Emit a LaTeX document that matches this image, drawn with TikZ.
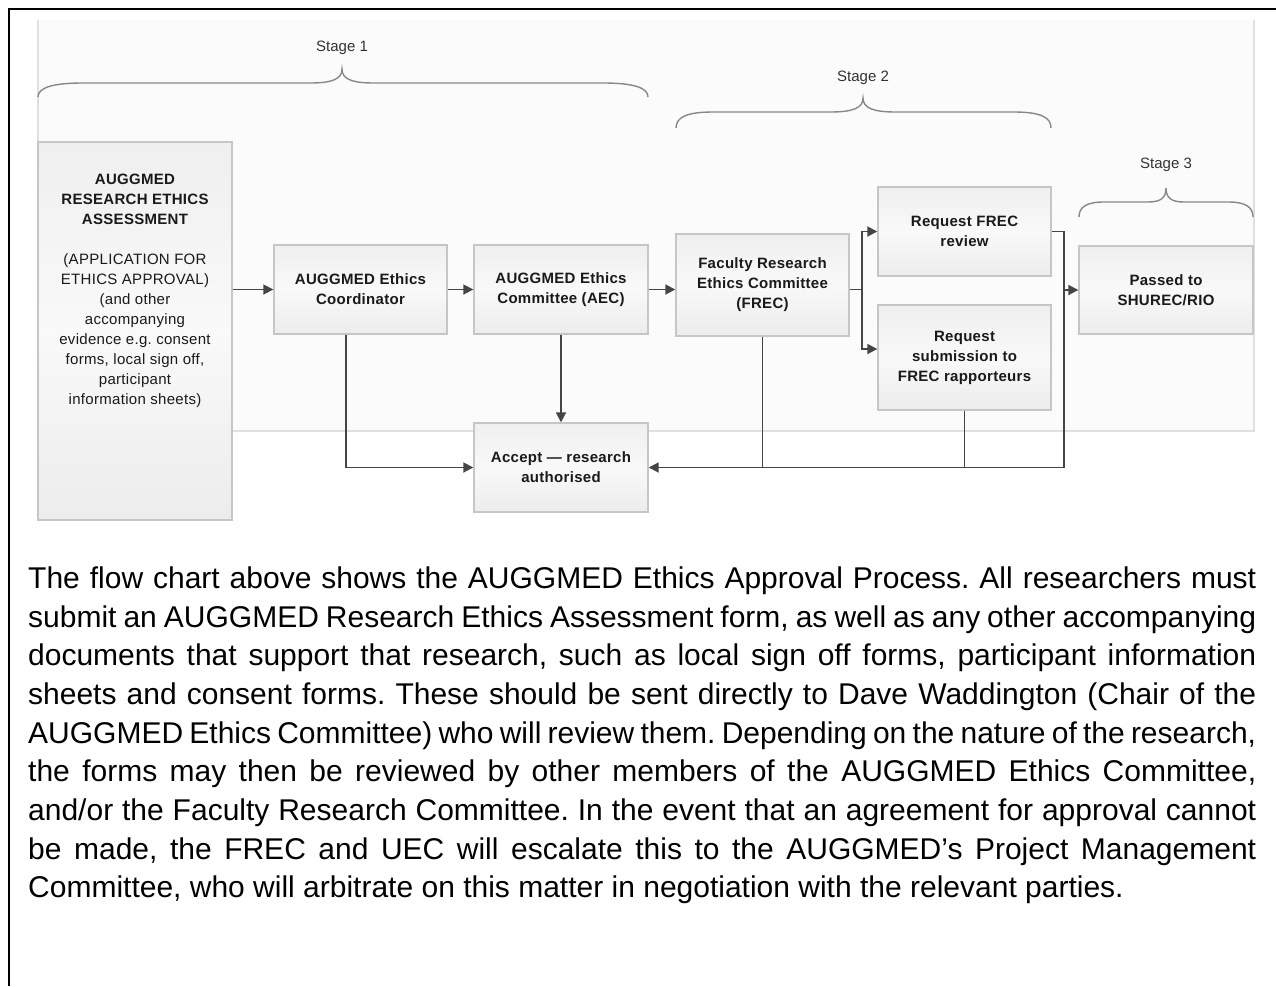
\documentclass[tikz,border=0pt]{standalone}
\usepackage{fontspec}
\setmainfont{Liberation Sans}
\newfontfamily\boxfont{Liberation Sans}[LetterSpace=2]
\usetikzlibrary{arrows.meta}
\frenchspacing
\definecolor{panelbg}{HTML}{FBFBFB}
\definecolor{panelline}{HTML}{E0E0E0}
\definecolor{boxline}{HTML}{C6C6C6}
\definecolor{boxtop}{HTML}{EFEFEF}
\definecolor{boxmid}{HTML}{F9F9F9}
\definecolor{boxbot}{HTML}{ECECEC}
\definecolor{arrowc}{HTML}{454545}
\definecolor{bracec}{HTML}{888888}
\definecolor{stagec}{HTML}{333333}
\definecolor{boxtext}{HTML}{1A1A1A}
\newcommand\stagebrace[8]{%
  \draw[bracestyle] (#1,#4) .. controls (#1,{#5+5}) and ({#1+0.3*#7},#5) .. ({#1+#7},#5)
    -- ({#3-#8},#5) .. controls ({#3-0.3*#8},#5) and (#3,{#5-4}) .. (#3,#6)
    .. controls (#3,{#5-4}) and ({#3+0.3*#8},#5) .. ({#3+#8},#5)
    -- ({#2-#7},#5) .. controls ({#2-0.3*#7},#5) and (#2,{#5+5}) .. (#2,#4);}
\newcommand\jline[3]{\node[para] (#1) at (28,#2) {\makebox[1228pt][s]{#3}};}
\begin{document}
\begin{tikzpicture}[x=1pt,y=-1pt,
  box/.style={draw=boxline, line width=1.4pt, top color=boxtop, bottom color=boxbot,
    middle color=boxmid, inner sep=0pt, align=center, text=boxtext,
    font=\boxfont\fontsize{15}{20}\selectfont\bfseries},
  plain/.style={inner sep=0pt, align=center, text=boxtext,
    font=\boxfont\fontsize{15}{20}\selectfont},
  conn/.style={draw=arrowc, line width=1.8pt},
  arr/.style={conn, -{Triangle[length=10pt,width=10pt]}},
  bracestyle/.style={draw=bracec, line width=1.4pt},
  stagelbl/.style={inner sep=0pt, text=stagec, font=\fontsize{15}{18}\selectfont},
  para/.style={anchor=base west, inner sep=0pt, text=black, font=\fontsize{30}{38}\selectfont}]
\useasboundingbox (0,0) rectangle (1276,986);
\fill[white] (0,0) rectangle (1276,986);
% panel
\fill[panelbg] (38,20) rectangle (1254,431);
\draw[panelline, line width=1.5pt] (38,20) -- (38,431) -- (1254,431) -- (1254,20);
% frame
\draw[line width=2.2pt] (9,986) -- (9,9) -- (1276,9);
% braces
\stagebrace{38}{648}{342}{97}{83}{69}{45}{32}
\stagebrace{676}{1051}{863}{128}{112}{98}{37}{33}
\stagebrace{1079}{1253}{1166}{217}{202}{188}{25}{18}
\node[stagelbl] (s1) at (342,48) {Stage 1};
\node[stagelbl] (s2) at (863,78) {Stage 2};
\node[stagelbl] (s3) at (1166,165) {Stage 3};
% boxes
\node[box, minimum width=194pt, minimum height=378pt] (big) at (135,331) {};
\node[plain] (bigtxt) at (135,291) {{\bfseries AUGGMED}\\{\bfseries RESEARCH ETHICS}\\{\bfseries ASSESSMENT}\\[20pt]
  (APPLICATION FOR\\ETHICS APPROVAL)\\(and other\\accompanying\\evidence e.g. consent\\forms, local sign off,\\participant\\information sheets)};
\node[box, minimum width=173pt, minimum height=89pt] (coord) at (360.5,289.5) {AUGGMED Ethics\\Coordinator};
\node[box, minimum width=174pt, minimum height=89pt] (aec) at (561,289.5) {AUGGMED Ethics\\Committee (AEC)};
\node[box, minimum width=173pt, minimum height=102pt] (frec) at (762.5,285) {Faculty Research\\Ethics Committee\\(FREC)};
\node[box, minimum width=173pt, minimum height=89pt] (rfr) at (964.5,231.5) {Request FREC\\review};
\node[box, minimum width=173pt, minimum height=105pt] (rsub) at (964.5,357.5) {Request\\submission to\\FREC rapporteurs};
\node[box, minimum width=174pt, minimum height=88pt] (pass) at (1166,290) {Passed to\\SHUREC/RIO};
\node[box, minimum width=174pt, minimum height=89pt] (acc) at (561,467.5) {Accept — research\\authorised};
% connectors
\coordinate (split) at (862,289.5);
\coordinate (splitlow) at (862,349);
\coordinate (rjoin) at (1064,290);
\coordinate (rbot) at (1064,467.5);
\coordinate (cdrop) at (346,334);
\draw[arr] (big.east |- coord) -- (coord.west);
\draw[arr] (coord.east) -- (aec.west);
\draw[arr] (aec.east) -- (aec.east -| frec.west);
\draw[conn] (frec.east |- split) -- (split);
\draw[arr] (split) |- (rfr.west);
\draw[arr] (split) -- (splitlow) -- (splitlow -| rsub.west);
\draw[arr] (rfr.east) -| (rbot) -- (acc.east);
\draw[arr] (rjoin) -- (pass.west);
\draw[conn] (rsub.south) -- (rsub.south |- acc.east);
\draw[conn] (frec.south) -- (frec.south |- acc.east);
\draw[arr] (aec.south) -- (acc.north);
\draw[arr] (cdrop |- coord.south) |- (acc.west);
% paragraph
\jline{p1}{588}{The flow chart above shows the AUGGMED Ethics Approval Process. All researchers must}
\jline{p2}{627}{submit an AUGGMED Research Ethics Assessment form, as well as any other accompanying}
\jline{p3}{665}{documents that support that research, such as local sign off forms, participant information}
\jline{p4}{704}{sheets and consent forms. These should be sent directly to Dave Waddington (Chair of the}
\jline{p5}{743}{AUGGMED Ethics Committee) who will review them. Depending on the nature of the research,}
\jline{p6}{781}{the forms may then be reviewed by other members of the AUGGMED Ethics Committee,}
\jline{p7}{820}{and/or the Faculty Research Committee. In the event that an agreement for approval cannot}
\jline{p8}{859}{be made, the FREC and UEC will escalate this to the AUGGMED’s Project Management}
\node[para] (p9) at (28,897) {Committee, who will arbitrate on this matter in negotiation with the relevant parties.};
\end{tikzpicture}
\end{document}
